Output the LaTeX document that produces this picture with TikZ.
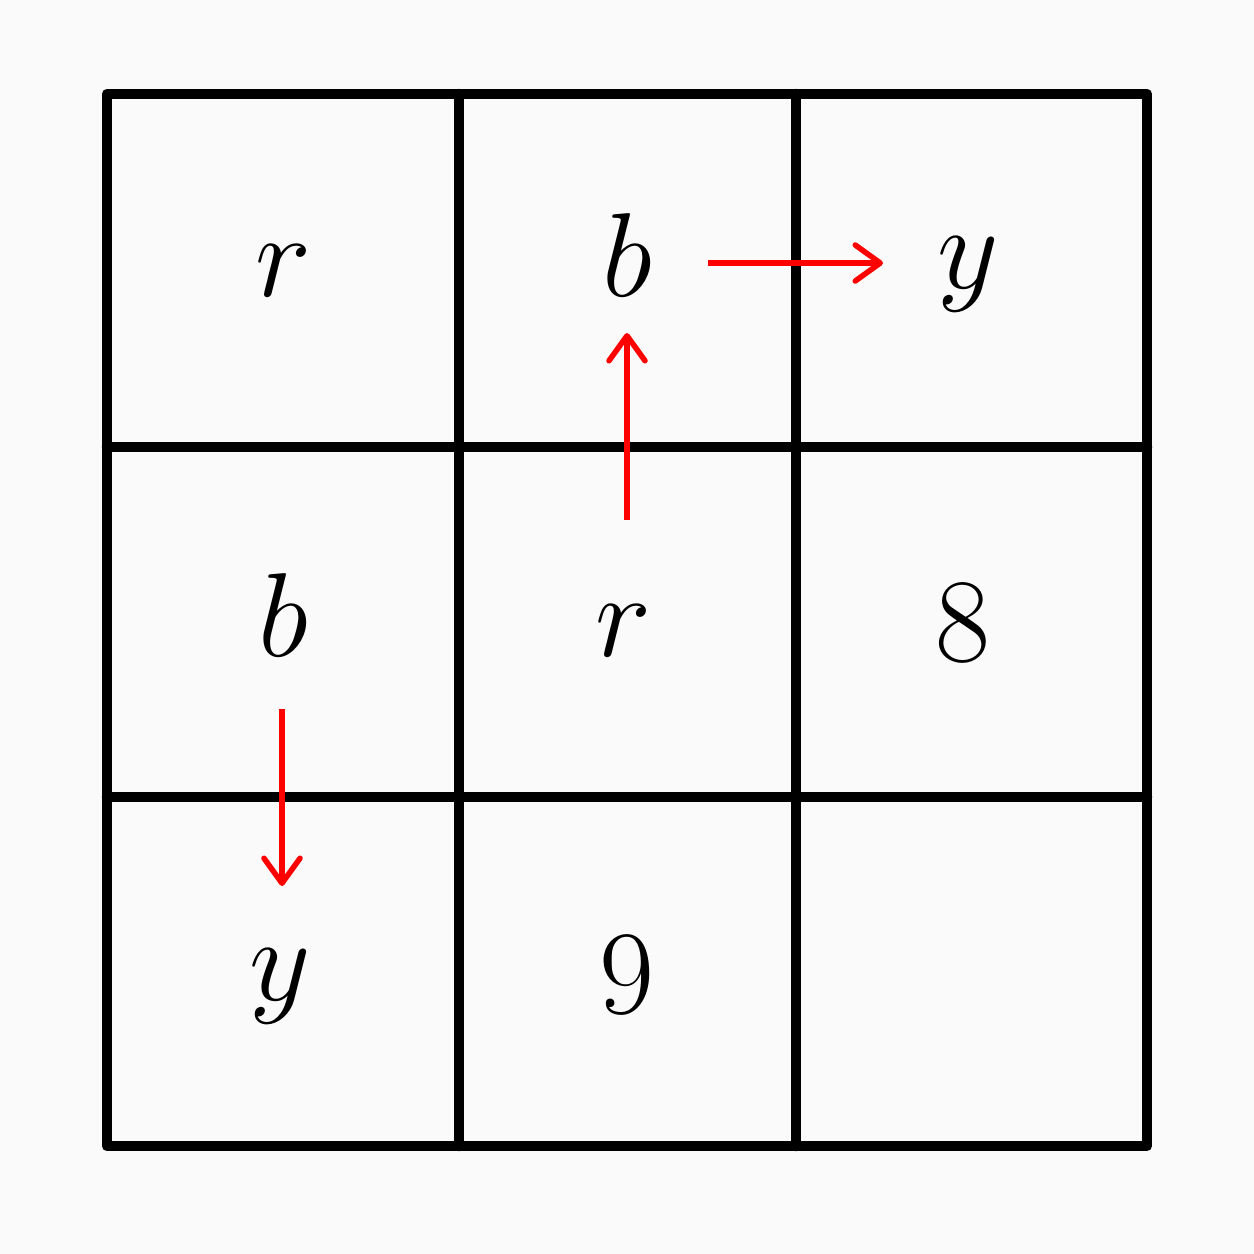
\documentclass[tikz,border=0pt]{standalone}
\usepackage{graphicx}
\usetikzlibrary{arrows.meta}
\newcommand{\cellglyph}[1]{\scalebox{1.366}{\Huge$#1$}}
\begin{document}
\begin{tikzpicture}[x=0.01cm,y=-0.01cm,
  gridline/.style={line width=0.105cm,line cap=round,line join=round,black},
  mv/.style={draw=red,line width=0.055cm,-{Straight Barb[length=0.25cm,width=0.36cm,round]}},
  lbl/.style={anchor=base,inner sep=0pt}]
\fill[white!98!black] (0,0) rectangle (1254,1254);
\useasboundingbox (0,0) rectangle (1254,1254);
% grid
\draw[gridline] (107,94) rectangle (1147,1146);
\draw[gridline] (459,94) -- (459,1146);
\draw[gridline] (796,94) -- (796,1146);
\draw[gridline] (107,447) -- (1147,447);
\draw[gridline] (107,797) -- (1147,797);
% labels
\node[lbl] (a1) at (283,296) {\cellglyph{r}};
\node[lbl] (a2) at (627,296) {\cellglyph{b}};
\node[lbl] (a3) at (968,288) {\cellglyph{y}};
\node[lbl] (b1) at (283,656) {\cellglyph{b}};
\node[lbl] (b2) at (623,656) {\cellglyph{r}};
\node[lbl] (b3) at (963,661) {\cellglyph{8}};
\node[lbl] (c1) at (280,1000) {\cellglyph{y}};
\node[lbl] (c2) at (627,1013) {\cellglyph{9}};
% arrow ends
\coordinate (h0) at (708,263);
\coordinate (h1) at (883,263);
\coordinate (v0) at (627,520);
\coordinate (v1) at (627,333);
\coordinate (d0) at (282,709);
\coordinate (d1) at (282,886);
\draw[mv] (h0) -- (h1);
\draw[mv] (v0) -- (v1);
\draw[mv] (d0) -- (d1);
\end{tikzpicture}
\end{document}
